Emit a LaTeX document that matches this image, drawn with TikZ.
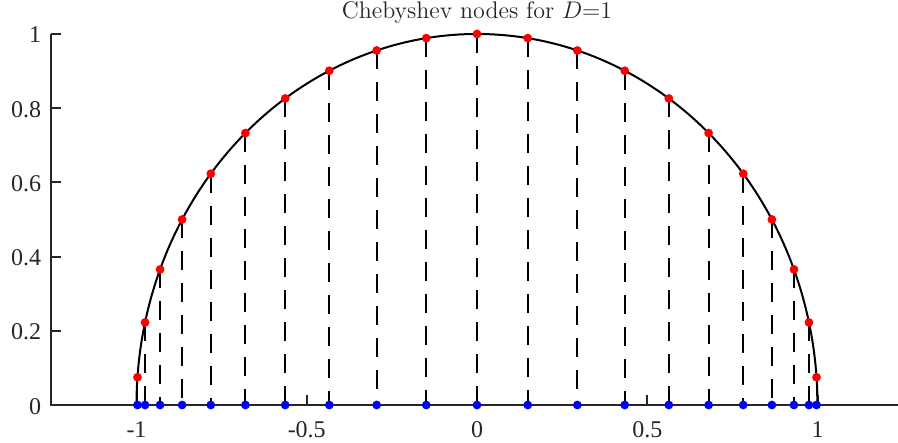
\documentclass[tikz,border=0pt]{standalone}
\usepackage{fontspec}
\usepackage{tikz}
\newfontfamily\tickfont{Liberation Serif}
\definecolor{axisgray}{rgb}{0.15,0.15,0.15}

\begin{document}
\begin{tikzpicture}[
        x=170.25pt, y=185.5pt,
        % Styles for axes, curve and points
        axisline/.style={draw=axisgray, line width=1pt},
        curveline/.style={draw=black, line width=1pt},
        dropline/.style={draw=black, line width=1pt, dash pattern=on 9.5pt off 6.5pt},
        topdot/.style={circle, fill=red, inner sep=0pt, minimum size=4.4pt},
        basedot/.style={circle, fill=blue, inner sep=0pt, minimum size=4.4pt},
        ticklabel/.style={font=\tickfont\fontsize{12}{14}\selectfont, text=axisgray, inner sep=0pt}
    ]
        \useasboundingbox (-1.4009,-0.1024) rectangle (1.2364,1.0916);

        % Axes
        \coordinate (ytop) at (-1.25,1);
        \coordinate (origin) at (-1.25,0);
        \coordinate (xend) at (1.25,0);
        \draw[axisline] (ytop) -- (origin) -- (xend);

        % Ticks and labels
        \foreach \y/\lab in {0/0, 0.2/0.2, 0.4/0.4, 0.6/0.6, 0.8/0.8, 1/1} {
            \draw[axisline] (-1.25,\y) -- ++(0.029,0);
            \node[ticklabel, anchor=base east] (ylab\lab) at (-1.279,\y-0.0243) {\lab};
        }
        \foreach \x/\lab in {-1/-1, -0.5/-0.5, 0/0, 0.5/0.5, 1/1} {
            \draw[axisline] (\x,0) -- ++(0,0.027);
            \node[ticklabel, anchor=base] (xlab\lab) at (\x,-0.0863) {\lab};
        }

        % Half circle
        \draw[curveline] plot[domain=0:180, samples=181] ({cos(\x)},{sin(\x)});

        % Chebyshev nodes
        \foreach \k in {1,...,21} {
            \pgfmathsetmacro{\ang}{(2*\k-1)*180/42}
            \coordinate (top\k) at ({cos(\ang)},{sin(\ang)});
            \coordinate (base\k) at ({cos(\ang)},0);
            \draw[dropline] (top\k) -- (base\k);
            \node[topdot] (red\k) at (top\k) {};
            \node[basedot] (blue\k) at (base\k) {};
        }

        % Title
        \node[font=\fontsize{12}{14}\selectfont, text=axisgray, anchor=base] (title) at (0,1.0404) {Chebyshev nodes for $D$=1};

    \end{tikzpicture}
\end{document}
